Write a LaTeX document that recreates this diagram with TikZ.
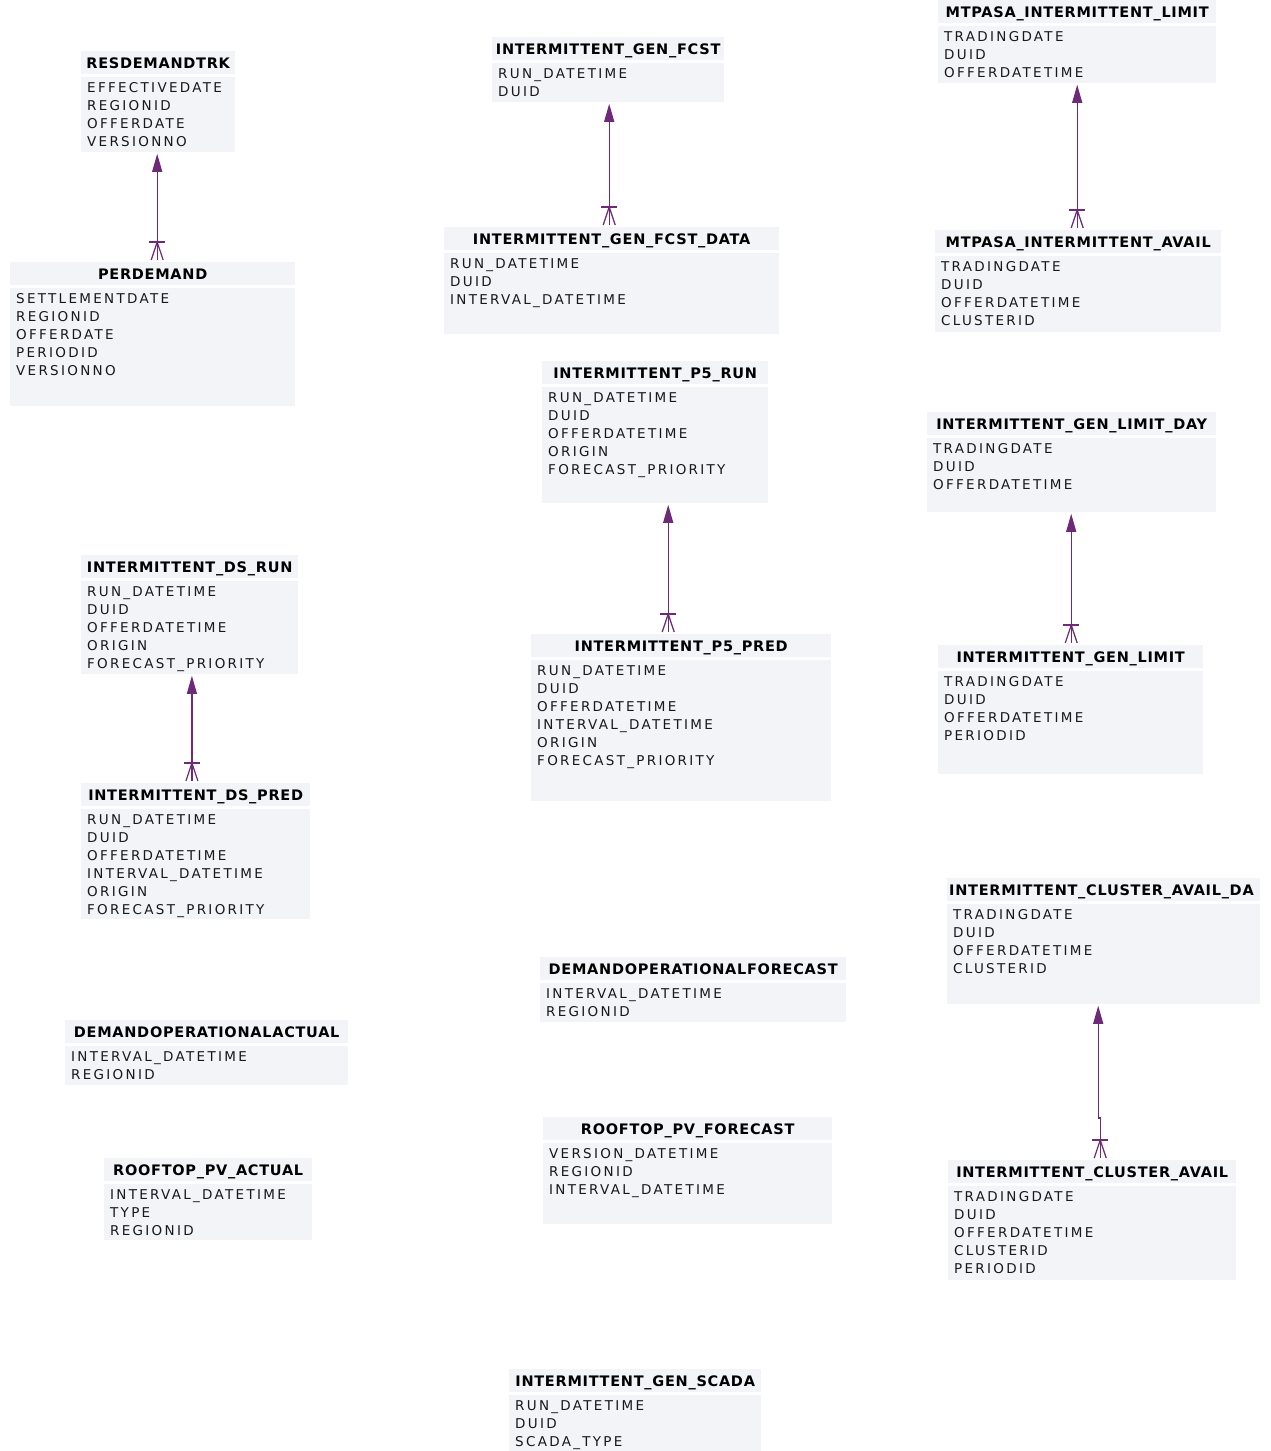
\documentclass[tikz,border=0pt]{standalone}
\usepackage{fontspec}
\setmainfont{DejaVu Sans}
\newfontfamily\ttlfont[LetterSpace=5]{DejaVu Sans}
\newfontfamily\fldfont[LetterSpace=17]{DejaVu Sans}
\usetikzlibrary{arrows.meta}
\definecolor{boxfill}{RGB}{243,244,248}
\definecolor{relcol}{RGB}{110,42,120}
\definecolor{fldtext}{RGB}{24,24,24}
\tikzset{
 ttl/.style={inner sep=0pt, font=\ttlfont\bfseries\fontsize{14.5}{16}\selectfont, text=black},
 hdr/.style={ttl, fill=boxfill, draw=none, minimum height=23pt, text height=12pt, text depth=0pt, anchor=north west},
 bdy/.style={fill=boxfill, draw=none, inner sep=0pt, anchor=north west},
 flds/.style={inner sep=0pt, anchor=north west, align=left, font=\fldfont\fontsize{13.5}{18}\selectfont, text=fldtext},
 rel/.style={draw=relcol, line width=1.2pt},
 relarrow/.style={rel, -{Triangle[length=18pt,width=10pt]}, shorten >=2pt},
}
\newcommand{\erbox}[7]{%
 \node[hdr, minimum width=#4pt] (#1-h) at (#2,#3) {#6};
 \node[bdy, minimum width=#4pt, minimum height=#5pt] (#1) at ([yshift=-2pt]#1-h.south west) {};
 \node[flds] (#1-f) at ([xshift=6pt,yshift=-6pt]#1.north west) {\rule{0pt}{10pt}#7};
}
\newcommand{\crowfoot}[1]{%
 \draw[rel] ([xshift=-6pt,yshift=2pt]#1) -- ([yshift=20pt]#1) -- ([xshift=6pt,yshift=2pt]#1);
 \draw[rel] ([xshift=-8pt,yshift=20pt]#1) -- ([xshift=8pt,yshift=20pt]#1);
}
\newcommand{\crowrel}[3]{%
 \coordinate (#1-c) at ([xshift=#2pt]#1-h.north);
 \coordinate (#1-p) at (#1-c |- #3.south);
 \draw[relarrow] ([yshift=2pt]#1-c) -- (#1-p);
 \crowfoot{#1-c}
}
\begin{document}
\begin{tikzpicture}[x=1pt,y=-1pt]
\fill[white] (0,0) rectangle (1271,1451);
\useasboundingbox (0,0) rectangle (1271,1451);

\erbox{resdemandtrk}{81}{51}{154}{75}{RESDEMANDTRK}{EFFECTIVEDATE\\REGIONID\\OFFERDATE\\VERSIONNO}
\erbox{perdemand}{10}{262}{285}{118}{PERDEMAND}{SETTLEMENTDATE\\REGIONID\\OFFERDATE\\PERIODID\\VERSIONNO}
\erbox{genfcst}{492}{37}{232}{39}{INTERMITTENT\_GEN\_FCST}{RUN\_DATETIME\\DUID}
\erbox{genfcstdata}{444}{227}{335}{81}{INTERMITTENT\_GEN\_FCST\_DATA}{RUN\_DATETIME\\DUID\\INTERVAL\_DATETIME}
\erbox{mtlimit}{938}{0}{278}{57}{MTPASA\_INTERMITTENT\_LIMIT}{TRADINGDATE\\DUID\\OFFERDATETIME}
\erbox{mtavail}{935}{230}{286}{76}{MTPASA\_INTERMITTENT\_AVAIL}{TRADINGDATE\\DUID\\OFFERDATETIME\\CLUSTERID}
\erbox{p5run}{542}{361}{226}{116}{INTERMITTENT\_P5\_RUN}{RUN\_DATETIME\\DUID\\OFFERDATETIME\\ORIGIN\\FORECAST\_PRIORITY}
\erbox{p5pred}{531}{634}{300}{141}{INTERMITTENT\_P5\_PRED}{RUN\_DATETIME\\DUID\\OFFERDATETIME\\INTERVAL\_DATETIME\\ORIGIN\\FORECAST\_PRIORITY}
\erbox{limitday}{927}{412}{289}{74}{INTERMITTENT\_GEN\_LIMIT\_DAY}{TRADINGDATE\\DUID\\OFFERDATETIME}
\erbox{genlimit}{938}{645}{265}{103}{INTERMITTENT\_GEN\_LIMIT}{TRADINGDATE\\DUID\\OFFERDATETIME\\PERIODID}
\erbox{dsrun}{81}{555}{217}{93}{INTERMITTENT\_DS\_RUN}{RUN\_DATETIME\\DUID\\OFFERDATETIME\\ORIGIN\\FORECAST\_PRIORITY}
\erbox{dspred}{81}{783}{229}{110}{INTERMITTENT\_DS\_PRED}{RUN\_DATETIME\\DUID\\OFFERDATETIME\\INTERVAL\_DATETIME\\ORIGIN\\FORECAST\_PRIORITY}
\erbox{clusterday}{947}{878}{313}{100}{}{TRADINGDATE\\DUID\\OFFERDATETIME\\CLUSTERID}
\begin{scope}
 \clip (clusterday-h.south west) rectangle (clusterday-h.north east);
 \node[ttl, anchor=base west] (clusterday-t) at ([xshift=2pt,yshift=-17.5pt]clusterday-h.north west) {INTERMITTENT\_CLUSTER\_AVAIL\_DA};
\end{scope}
\erbox{clusteravail}{948}{1160}{288}{94}{INTERMITTENT\_CLUSTER\_AVAIL}{TRADINGDATE\\DUID\\OFFERDATETIME\\CLUSTERID\\PERIODID}
\erbox{dopforecast}{540}{957}{306}{39}{DEMANDOPERATIONALFORECAST}{INTERVAL\_DATETIME\\REGIONID}
\erbox{dopactual}{65}{1020}{283}{39}{DEMANDOPERATIONALACTUAL}{INTERVAL\_DATETIME\\REGIONID}
\erbox{pvactual}{104}{1158}{208}{56}{ROOFTOP\_PV\_ACTUAL}{INTERVAL\_DATETIME\\TYPE\\REGIONID}
\erbox{pvforecast}{543}{1117}{289}{81}{ROOFTOP\_PV\_FORECAST}{VERSION\_DATETIME\\REGIONID\\INTERVAL\_DATETIME}
\erbox{scada}{509}{1369}{252}{57}{INTERMITTENT\_GEN\_SCADA}{RUN\_DATETIME\\DUID\\SCADA\_TYPE}

\crowrel{perdemand}{4.5}{resdemandtrk}
\crowrel{genfcstdata}{-2.5}{genfcst}
\crowrel{mtavail}{-1}{mtlimit}
\crowrel{p5pred}{-13}{p5run}
\crowrel{genlimit}{0.5}{limitday}
\crowrel{dspred}{-3.8}{dsrun}

\coordinate (clusteravail-c) at ([xshift=8pt]clusteravail-h.north);
\coordinate (clusteravail-p) at ([xshift=-5.5pt]clusterday.south);
\draw[relarrow] ([yshift=2pt]clusteravail-c) -- ([yshift=42pt]clusteravail-c) -| (clusteravail-p);
\crowfoot{clusteravail-c}
\end{tikzpicture}
\end{document}
